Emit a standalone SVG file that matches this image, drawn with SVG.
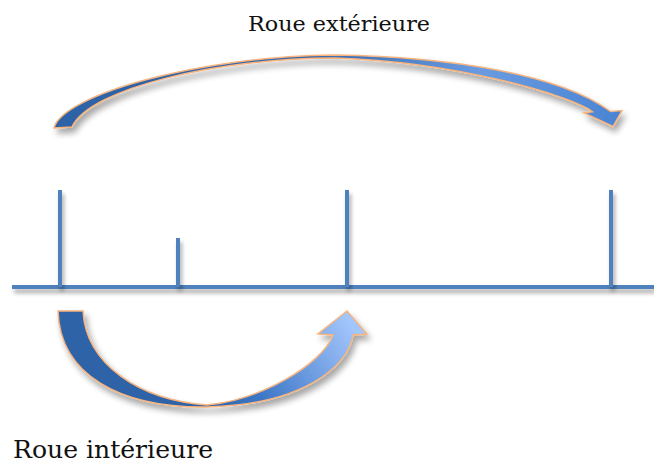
<svg xmlns="http://www.w3.org/2000/svg" width="654" height="465" viewBox="0 0 654 465">
<style>
.tick{fill:#4f81bd;filter:url(#sh)}
.arrow{stroke:#f7b47e;stroke-width:1.5;stroke-linejoin:miter;filter:url(#sh2)}
.lbl{font-family:"DejaVu Serif","Liberation Serif",serif;fill:#111}
</style>
<defs>
<filter id="sh" filterUnits="userSpaceOnUse" x="0" y="150" width="654" height="170">
<feGaussianBlur in="SourceAlpha" stdDeviation="2"/>
<feOffset dx="2" dy="4" result="b"/>
<feComponentTransfer><feFuncA type="linear" slope="0.35"/></feComponentTransfer>
<feMerge><feMergeNode/><feMergeNode in="SourceGraphic"/></feMerge>
</filter>
<filter id="sh2" x="-20%" y="-30%" width="140%" height="160%">
<feGaussianBlur in="SourceAlpha" stdDeviation="3"/>
<feOffset dx="3" dy="5" result="b"/>
<feComponentTransfer><feFuncA type="linear" slope="0.35"/></feComponentTransfer>
<feMerge><feMergeNode/><feMergeNode in="SourceGraphic"/></feMerge>
</filter>
<linearGradient id="gTop" gradientUnits="userSpaceOnUse" x1="50" y1="0" x2="625" y2="0">
<stop offset="0" stop-color="#2d62a6"/>
<stop offset="0.45" stop-color="#3367ae"/>
<stop offset="0.75" stop-color="#6a9be0"/>
<stop offset="1" stop-color="#4883d3"/>
</linearGradient>
<linearGradient id="gBot" gradientUnits="userSpaceOnUse" x1="205" y1="405" x2="345" y2="315">
<stop offset="0" stop-color="#2e63a8"/>
<stop offset="0.3" stop-color="#3c76c6"/>
<stop offset="1" stop-color="#a2c5fc"/>
</linearGradient>
</defs>

<g id="axis">
<rect class="tick" x="12" y="285" width="642" height="4"/>
</g>
<g id="ticks">
<rect id="t1" class="tick" x="58" y="190" width="4" height="97"/>
<rect id="t2" class="tick" x="176" y="238" width="4" height="49"/>
<rect id="t3" class="tick" x="345" y="190" width="4" height="97"/>
<rect id="t4" class="tick" x="609" y="190" width="4" height="97"/>
</g>

<g id="connectors">
<path id="outerArrow" class="arrow" fill="url(#gTop)" d="M54,128 C62,95 200,56 335,55 C450,57 560,74 610.5,111.5 L622,110.5 L613,126.5 L584,113 L592.5,111.8 C574,97 460,62 335,58 C220,58 90,88 72,127 Z"/>
<path id="innerArrow" class="arrow" fill="url(#gBot)" d="M58,311 L83,311 C86,365 140,400 207,405 C260,400 322,365 333,335 L318,334 L347,311 L367,334 L353,335 C348,368 300,405 207,407 C120,408 60,375 58,311 Z"/>
</g>

<g id="labels">
<text id="lblOuter" class="lbl" x="248" y="31" font-size="20.5" textLength="182" lengthAdjust="spacingAndGlyphs">Roue extérieure</text>
<text id="lblInner" class="lbl" x="13" y="458" font-size="24" textLength="200" lengthAdjust="spacingAndGlyphs">Roue intérieure</text>
</g>
</svg>
